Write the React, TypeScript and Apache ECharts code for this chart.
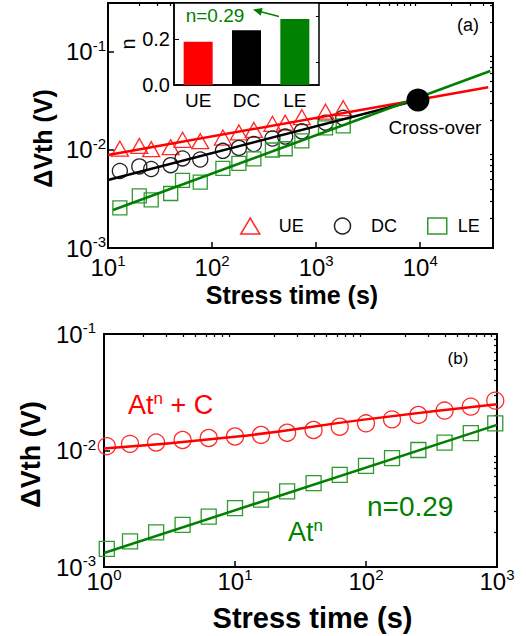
import React, { useEffect, useRef } from "react";
import * as echarts from "echarts";

const FONT = "'Liberation Sans', Arial, Helvetica, sans-serif";
const RED = "#ff0000";
const GREEN = "#008000";
const MRED = "#ff2a2a";
const MGREEN = "#2f9a2f";

// ---- panel (a) data ----
const timesA = [13, 20, 26, 40, 52, 77, 127, 181, 252, 380, 504, 728, 1230, 1820];
const ueA = [0.0103, 0.011, 0.0102, 0.0107, 0.0127, 0.0123, 0.0134, 0.0151, 0.016, 0.0185, 0.019, 0.0216, 0.0246, 0.0267];
const dcA = [0.0061, 0.0068, 0.0064, 0.007, 0.0082, 0.008, 0.0098, 0.0105, 0.0115, 0.0131, 0.0137, 0.0155, 0.019, 0.0213];
const leA = [0.00257, 0.0034, 0.0031, 0.0036, 0.0049, 0.0047, 0.0065, 0.0073, 0.0081, 0.01, 0.0103, 0.0124, 0.0168, 0.0176];
const ueFit = [[10, 0.0089], [45000, 0.0437]];
const dcFit = [[10, 0.00494], [9500, 0.0324]];
const leFit = [[11.2, 0.00244], [47100, 0.064]];
const crossOver = [[9500, 0.0324]];

// ---- inset data ----
const insetCats = ["UE", "DC", "LE"];
const insetN = [0.19, 0.24, 0.29];
const insetColors = [RED, "#000000", GREEN];

// ---- panel (b) data ----
const timesB = [1.05, 1.58, 2.5, 3.98, 6.3, 10, 15.8, 25, 39.8, 63, 100, 158, 251, 398, 631, 970];
const atnC = [0.0109, 0.0114, 0.0117, 0.0123, 0.0128, 0.0132, 0.0136, 0.0142, 0.015, 0.016, 0.0171, 0.0185, 0.0202, 0.022, 0.0238, 0.0268];
const atn = [0.00143, 0.00166, 0.00198, 0.0023, 0.00271, 0.0032, 0.00378, 0.00445, 0.00525, 0.00618, 0.00738, 0.00859, 0.0101, 0.0117, 0.0141, 0.0171];
const atnCFit = [[1, 0.0104], [10, 0.0131], [100, 0.0185], [1000, 0.0249]];
const atnFit = [[1, 0.00132], [1000, 0.0166]];

// ---- ticks ----
const xTicksA = [10, 100, 1000, 10000];
const yTicksA = [0.001, 0.01, 0.1];
const xTicksB = [1, 10, 100, 1000];
const yTicksB = [0.001, 0.01, 0.1];
const insetTicks = [0, 0.2];
const insetMinor = [0.1, 0.3];

function minorTicks(lo: number, hi: number): number[] {
  const out: number[] = [];
  for (let e = Math.floor(Math.log10(lo)); e <= Math.ceil(Math.log10(hi)); e++) {
    for (let m = 2; m <= 9; m++) {
      const v = parseFloat((m * Math.pow(10, e)).toPrecision(6));
      if (v > lo * 1.0001 && v < hi * 0.9999) out.push(v);
    }
  }
  return out;
}

const supFmt = (v: number) => "{b|10}{s|" + Math.round(Math.log10(v)) + "}";
const supRich = {
  b: { fontSize: 24, lineHeight: 28, fontFamily: FONT, color: "#000" },
  s: { fontSize: 15, lineHeight: 12, verticalAlign: "top", fontFamily: FONT, color: "#000" },
};

function majorLog(grid: number, min: number, max: number, ticks: number[], margin: number, extra: any = {}) {
  return {
    type: "log",
    logBase: 10,
    gridIndex: grid,
    min,
    max,
    axisLine: { show: true, lineStyle: { color: "#000", width: 2 } },
    axisTick: { show: true, inside: true, length: 6, customValues: ticks, lineStyle: { color: "#000", width: 1.5 } },
    axisLabel: { show: true, customValues: ticks, formatter: supFmt, rich: supRich, margin },
    splitLine: { show: false },
    minorTick: { show: false },
    ...extra,
  };
}
function minorLog(grid: number, min: number, max: number) {
  return {
    type: "log",
    logBase: 10,
    gridIndex: grid,
    min,
    max,
    axisLine: { show: false },
    axisTick: { show: true, inside: true, length: 3, customValues: minorTicks(min, max), lineStyle: { color: "#000", width: 1.2 } },
    axisLabel: { show: false },
    splitLine: { show: false },
  };
}

export default function App() {
  const ref = useRef<HTMLDivElement>(null);
  useEffect(() => {
    document.body.style.margin = "0";
    const chart = echarts.init(ref.current!, null, { renderer: "svg" });
    const titleStyle = (size: number, pad: number[]) => ({
      fontSize: size, fontWeight: "bold", fontFamily: FONT, color: "#000", padding: pad,
    });
    const hollow = (c: string, w = 1.3) => ({ color: "transparent", borderColor: c, borderWidth: w, opacity: 1 });
    const legendText = (pad: number) => ({ fontSize: 18, color: "#000", fontFamily: FONT, padding: [0, 0, 0, pad] });

    const option: any = {
      animation: false,
      textStyle: { fontFamily: FONT },
      grid: [
        { left: 108, top: 3, width: 385, height: 245, show: true, borderColor: "#000", borderWidth: 2, backgroundColor: "transparent" },
        { left: 174, top: 3, width: 145, height: 82, show: true, borderColor: "#000", borderWidth: 1.5, backgroundColor: "#fff", z: 5 },
        { left: 104, top: 334, width: 393, height: 233, show: true, borderColor: "#000", borderWidth: 2, backgroundColor: "transparent" },
      ],
      xAxis: [
        majorLog(0, 10, 50000, xTicksA, 5, {
          name: "Stress time (s)", nameLocation: "middle", nameGap: 34, nameTextStyle: titleStyle(25, [0, 17, 0, 0]),
        }),
        minorLog(0, 10, 50000),
        {
          type: "category", gridIndex: 1, data: insetCats,
          axisLine: { show: true, lineStyle: { color: "#000", width: 1.5 } },
          axisTick: { show: false },
          axisLabel: { fontSize: 19, color: "#000", fontFamily: FONT, margin: 6 },
          z: 6,
        },
        majorLog(2, 1, 1000, xTicksB, 0, {
          name: "Stress time (s)", nameLocation: "middle", nameGap: 36, nameTextStyle: titleStyle(29, [0, 0, 0, 24]),
        }),
        minorLog(2, 1, 1000),
      ],
      yAxis: [
        majorLog(0, 0.001, 0.316, yTicksA, 2, {
          name: "ΔVth (V)", nameLocation: "middle", nameGap: 48, nameRotate: 90, nameTextStyle: titleStyle(25, [0, 26, 0, 0]),
        }),
        minorLog(0, 0.001, 0.316),
        {
          type: "value", gridIndex: 1, min: 0, max: 0.36,
          axisLine: { show: true, lineStyle: { color: "#000", width: 1.5 } },
          axisTick: { show: true, inside: true, length: 5, customValues: insetTicks, lineStyle: { color: "#000" } },
          axisLabel: { customValues: insetTicks, formatter: (v: number) => v.toFixed(1), fontSize: 20, color: "#000", fontFamily: FONT, margin: 4 },
          splitLine: { show: false },
          name: "n", nameLocation: "middle", nameGap: 36, nameRotate: 90,
          nameTextStyle: { fontSize: 20, color: "#000", fontFamily: FONT },
          z: 6,
        },
        {
          type: "value", gridIndex: 1, min: 0, max: 0.36,
          axisLine: { show: false },
          axisTick: { show: true, inside: true, length: 3, customValues: insetMinor, lineStyle: { color: "#000" } },
          axisLabel: { show: false },
          splitLine: { show: false },
          z: 6,
        },
        majorLog(2, 0.001, 0.1, yTicksB, 8, {
          name: "ΔVth (V)", nameLocation: "middle", nameGap: 60, nameRotate: 90, nameTextStyle: titleStyle(27, [0, 8, 0, 0]),
        }),
        minorLog(2, 0.001, 0.1),
      ],
      legend: {
        left: 235, top: 212, itemWidth: 19, itemHeight: 16, itemGap: 30,
        textStyle: legendText(14),
        data: [
          { name: "UE", icon: "triangle", itemStyle: hollow(MRED, 1.5), textStyle: legendText(14) },
          { name: "DC", icon: "circle", itemStyle: hollow("#222", 1.5), textStyle: legendText(14) },
          { name: "LE", icon: "rect", itemStyle: hollow(MGREEN, 1.5), textStyle: legendText(6) },
        ],
        selectedMode: false,
      },
      series: [
        { name: "UE", type: "scatter", xAxisIndex: 0, yAxisIndex: 0, symbol: "triangle", symbolSize: [17, 15],
          itemStyle: hollow(MRED), data: timesA.map((t, i) => [t, ueA[i]]), z: 2 },
        { name: "DC", type: "scatter", xAxisIndex: 0, yAxisIndex: 0, symbol: "circle", symbolSize: 15,
          itemStyle: hollow("#222"), data: timesA.map((t, i) => [t, dcA[i]]), z: 2 },
        { name: "LE", type: "scatter", xAxisIndex: 0, yAxisIndex: 0, symbol: "rect", symbolSize: 14,
          itemStyle: hollow(MGREEN), data: timesA.map((t, i) => [t, leA[i]]), z: 2 },
        { name: "UE fit", type: "line", xAxisIndex: 0, yAxisIndex: 0, showSymbol: false, symbol: "none",
          lineStyle: { color: RED, width: 2.5 }, data: ueFit, z: 3 },
        { name: "DC fit", type: "line", xAxisIndex: 0, yAxisIndex: 0, showSymbol: false, symbol: "none",
          lineStyle: { color: "#000", width: 2.5 }, data: dcFit, z: 3 },
        { name: "LE fit", type: "line", xAxisIndex: 0, yAxisIndex: 0, showSymbol: false, symbol: "none",
          lineStyle: { color: GREEN, width: 2.5 }, data: leFit, z: 3 },
        { name: "Cross-over", type: "scatter", xAxisIndex: 0, yAxisIndex: 0, symbol: "circle", symbolSize: 23,
          itemStyle: { color: "#000", opacity: 1 }, data: crossOver, z: 4 },
        { name: "n", type: "bar", xAxisIndex: 2, yAxisIndex: 2, barWidth: 29, z: 6,
          data: insetN.map((v, i) => ({ value: v, itemStyle: { color: insetColors[i] } })) },
        { name: "AtnC pts", type: "scatter", xAxisIndex: 3, yAxisIndex: 4, symbol: "circle", symbolSize: 17,
          itemStyle: hollow(MRED), data: timesB.map((t, i) => [t, atnC[i]]), z: 2 },
        { name: "Atn pts", type: "scatter", xAxisIndex: 3, yAxisIndex: 4, symbol: "rect", symbolSize: 15,
          itemStyle: hollow(MGREEN), data: timesB.map((t, i) => [t, atn[i]]), z: 2 },
        { name: "AtnC fit", type: "line", xAxisIndex: 3, yAxisIndex: 4, showSymbol: false, symbol: "none", smooth: true,
          lineStyle: { color: RED, width: 2.5 }, data: atnCFit, z: 3 },
        { name: "Atn fit", type: "line", xAxisIndex: 3, yAxisIndex: 4, showSymbol: false, symbol: "none",
          lineStyle: { color: GREEN, width: 2.5 }, data: atnFit, z: 3 },
      ],
      graphic: [
        { type: "text", x: 468, y: 25, z: 10, style: { text: "(a)", fontSize: 18, fontFamily: FONT, fill: "#000", align: "center", verticalAlign: "middle" } },
        { type: "text", x: 435, y: 127, z: 10, style: { text: "Cross-over", fontSize: 19, fontFamily: FONT, fill: "#000", align: "center", verticalAlign: "middle" } },
        { type: "text", x: 215, y: 15, z: 10, style: { text: "n=0.29", fontSize: 19, fontFamily: FONT, fill: GREEN, align: "center", verticalAlign: "middle" } },
        { type: "line", z: 10, shape: { x1: 279, y1: 16.5, x2: 260, y2: 11.5 }, style: { stroke: GREEN, lineWidth: 1.5 } },
        { type: "polygon", z: 10, shape: { points: [[253, 9.5], [262.7, 8.0], [260.7, 15.7]] }, style: { fill: GREEN } },
        { type: "text", x: 458, y: 358, z: 10, style: { text: "(b)", fontSize: 17, fontFamily: FONT, fill: "#000", align: "center", verticalAlign: "middle" } },
        { type: "text", x: 128, y: 405, z: 10, style: {
          text: "{a|At}{s|n}{a| + C}", fill: RED, align: "left", verticalAlign: "middle",
          rich: { a: { fontSize: 27, lineHeight: 30, fontFamily: FONT, fill: RED }, s: { fontSize: 17, lineHeight: 14, verticalAlign: "top", fontFamily: FONT, fill: RED } },
        } },
        { type: "text", x: 288, y: 532, z: 10, style: {
          text: "{a|At}{s|n}", fill: GREEN, align: "left", verticalAlign: "middle",
          rich: { a: { fontSize: 27, lineHeight: 30, fontFamily: FONT, fill: GREEN }, s: { fontSize: 17, lineHeight: 14, verticalAlign: "top", fontFamily: FONT, fill: GREEN } },
        } },
        { type: "text", x: 367, y: 506, z: 10, style: { text: "n=0.29", fontSize: 28, fontFamily: FONT, fill: GREEN, align: "left", verticalAlign: "middle" } },
      ],
    };
    chart.setOption(option);
    return () => chart.dispose();
  }, []);
  return <div ref={ref} style={{ width: 526, height: 636 }} />;
}
